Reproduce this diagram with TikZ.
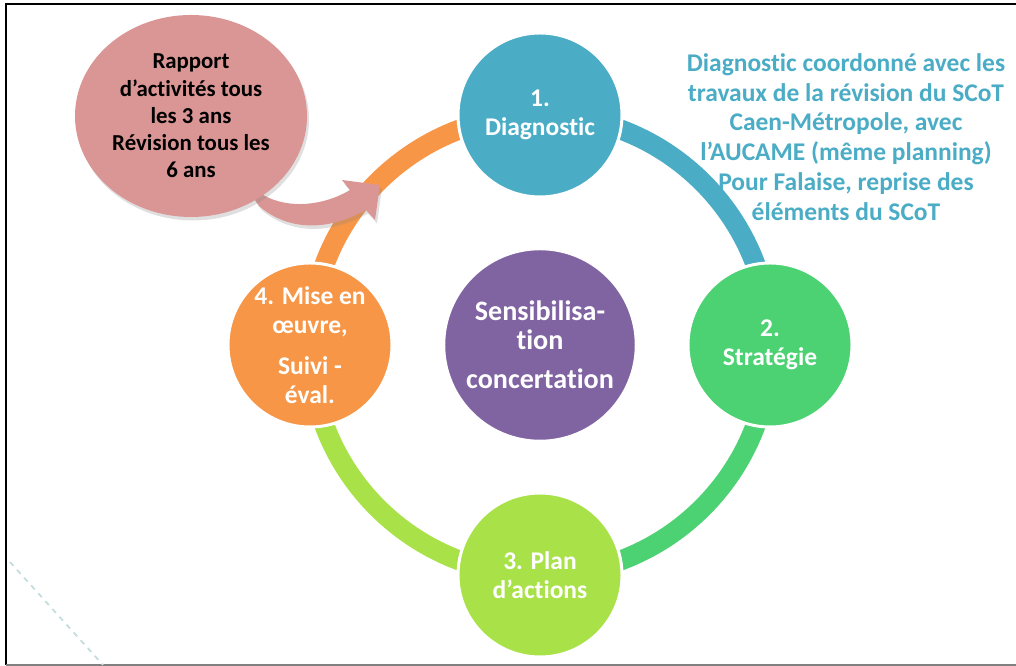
\documentclass[tikz,border=0pt]{standalone}
\usepackage{fontspec}
\setmainfont{Carlito}[Ligatures=NoCommon]
\usetikzlibrary{shapes.geometric,backgrounds,shadows}
\definecolor{diagblue}{RGB}{75,172,198}
\definecolor{stratgreen}{RGB}{76,210,115}
\definecolor{plangreen}{RGB}{168,226,72}
\definecolor{miseorange}{RGB}{247,150,70}
\definecolor{sensipurple}{RGB}{128,100,162}
\definecolor{bubblepink}{RGB}{217,150,148}
\definecolor{slideline}{RGB}{197,220,220}
\tikzset{
	etape/.style={circle, draw=white, line width=1.7pt, minimum size=3.28cm, inner sep=0pt, text=white, align=center, font=\fontsize{14.5}{16.5}\selectfont\bfseries},
	anneau/.style={line width=0.4cm},
	bulle/.style={ellipse, fill=bubblepink, minimum width=4.64cm, minimum height=4.04cm, inner sep=0pt, align=center, font=\fontsize{13}{15.5}\selectfont\bfseries, drop shadow={opacity=0.25, shadow xshift=0.04cm, shadow yshift=-0.07cm}}
}

\begin{document}
\begin{tikzpicture}
	\useasboundingbox (-10.8,-6.42) rectangle (9.52,6.9);
	% cadre de la diapo
	\draw[black, line width=0.9pt] (-10.68,-6.40) -- (-10.68,6.82) -- (9.6,6.82);
	\draw[gray, line width=0.9pt] (-10.68,-6.40) -- (9.6,-6.40);
	\draw[slideline, dashed, line width=1pt] (-10.6,-4.34) -- (-8.74,-6.40);

	% les quatre etapes et le centre
	\node[etape, fill=diagblue] (diag) at (90:4.6) {1.\\Diagnostic};
	\node[etape, fill=stratgreen] (strat) at (0:4.6) {2.\\Stratégie};
	\node[etape, fill=plangreen] (plan) at (270:4.6) {3. Plan\\d’actions};
	\node[etape, fill=miseorange] (mise) at (180:4.6) {4. Mise en\\œuvre,\\[0.24cm]Suivi -\\éval.};
	\node[etape, fill=sensipurple, minimum size=3.85cm, font=\fontsize{16}{16.5}\selectfont\bfseries] (sensi) at (0,0) {Sensibilisa-\\tion\\[0.2cm]concertation};

	% anneau
	\begin{scope}[on background layer]
		\draw[anneau, diagblue] (diag.center) arc[start angle=90, end angle=0, radius=4.6];
		\draw[anneau, stratgreen] (strat.center) arc[start angle=0, end angle=-90, radius=4.6];
		\draw[anneau, plangreen] (plan.center) arc[start angle=270, end angle=180, radius=4.6];
		\draw[anneau, miseorange] (mise.center) arc[start angle=180, end angle=90, radius=4.6];
	\end{scope}

	% bulle et sa fleche
	\fill[bubblepink, drop shadow={opacity=0.25, shadow xshift=0.04cm, shadow yshift=-0.07cm}]
		(-5.9,3.2) -- (-5.54,3.0) .. controls (-5.0,2.7) and (-4.3,2.8) .. (-3.80,3.10)
		-- (-3.96,3.30) -- (-3.20,3.20) -- (-3.30,2.50) -- (-3.48,2.70)
		.. controls (-4.2,2.30) and (-5.0,2.25) .. (-5.62,2.78) -- cycle;
	\node[bulle] (rapport) at (-6.98,4.58) {Rapport\\d’activités tous\\les 3 ans\\Révision tous les\\6 ans};

	\node[text=diagblue, align=center, font=\fontsize{14.5}{17}\selectfont\bfseries] (note) at (6.12,4.16)
		{Diagnostic coordonné avec les\\travaux de la révision du SCoT\\Caen-Métropole, avec\\l’AUCAME (même planning)\\Pour Falaise, reprise des\\éléments du SCoT};
\end{tikzpicture}
\end{document}
